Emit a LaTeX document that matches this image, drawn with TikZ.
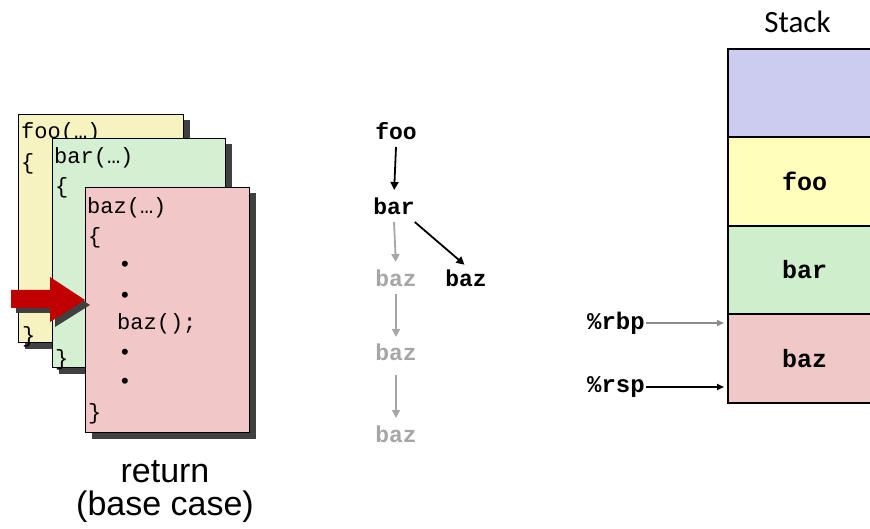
\documentclass[tikz,border=0pt]{standalone}
\usepackage{fontspec}
\setmainfont{Liberation Sans}
\newfontfamily\codefont{Liberation Mono}
\newfontfamily\calfont{Carlito}
\usetikzlibrary{arrows.meta,shadows}
\definecolor{cfoo}{RGB}{246,243,192}
\definecolor{cbar}{RGB}{213,239,210}
\definecolor{cbaz}{RGB}{242,199,199}
\definecolor{sblue}{RGB}{204,204,240}
\definecolor{syellow}{RGB}{255,255,187}
\definecolor{sgreen}{RGB}{206,238,204}
\definecolor{spink}{RGB}{240,200,200}
\definecolor{shadowc}{RGB}{64,64,64}
\definecolor{fadegray}{RGB}{166,166,166}
\definecolor{ptrgray}{RGB}{140,140,140}
\definecolor{arrowred}{RGB}{192,0,0}
\tikzset{
  codebox/.style={draw=black, line width=1pt, anchor=north west, inner sep=0pt,
    drop shadow={shadow xshift=6pt, shadow yshift=-6pt, fill=shadowc, opacity=1}},
  codetxt/.style={font=\codefont\fontsize{22}{24}\selectfont, anchor=west, inner sep=0pt,
    text height=16pt, text depth=2pt},
  calltxt/.style={font=\codefont\bfseries\fontsize{23}{25}\selectfont, inner sep=0pt,
    text height=15pt, text depth=1pt, outer sep=6pt},
  fade/.style={text=fadegray},
  callarrow/.style={line width=1.8pt, -{Triangle[length=8pt,width=8pt]}},
  fadearrow/.style={callarrow, draw=fadegray},
  stackcell/.style={draw=black, line width=2pt, anchor=north west, inner sep=0pt,
    minimum width=153pt, minimum height=88.5pt,
    font=\codefont\bfseries\fontsize{25}{27}\selectfont, text height=17pt, text depth=0pt},
  regtxt/.style={font=\codefont\bfseries\fontsize{24}{26}\selectfont, inner sep=1pt, anchor=east},
  ptrarrow/.style={line width=1.6pt, -{Triangle[length=7pt,width=6pt]}}
}
\begin{document}
\begin{tikzpicture}[x=1pt,y=-1pt]
\useasboundingbox (0,0) rectangle (870,529);

% ---------- code frames ----------
\node[codebox, fill=cfoo, minimum width=165pt, minimum height=228pt] (foobox) at (18,114) {};
\node[codetxt] (foohead) at (21,132) {foo(…)};
\node[codetxt] (fooopen) at (21,163) {\{};
\node[codetxt] (fooclose) at (22,335) {\}};

\node[codebox, fill=cbar, minimum width=173pt, minimum height=229pt] (barbox) at (52,138) {};
\node[codetxt] (barhead) at (54,157) {bar(…)};
\node[codetxt] (baropen) at (55,187) {\{};
\node[codetxt] (barclose) at (55,358) {\}};

\node[codebox, fill=cbaz, minimum width=164pt, minimum height=245pt] (bazbox) at (85,187) {};
\node[codetxt] (bazhead) at (87,207) {baz(…)};
\node[codetxt] (bazopen) at (88,237) {\{};
\node[codetxt, anchor=center] (dot1) at (125,265) {•};
\node[codetxt, anchor=center] (dot2) at (125,295) {•};
\node[codetxt] (bazcall) at (117,323) {baz();};
\node[codetxt, anchor=center] (dot3) at (125,352) {•};
\node[codetxt, anchor=center] (dot4) at (125,381) {•};
\node[codetxt] (bazclose) at (88,412) {\}};

% red pointer arrow
\fill[shadowc] (16,295) -- (55,295) -- (55,282) -- (90,305) -- (55,327) -- (55,313) -- (16,313) -- cycle;
\fill[arrowred] (11,290) -- (50,290) -- (50,277) -- (85,300) -- (50,322) -- (50,308) -- (11,308) -- cycle;

\node[font=\fontsize{34}{33}\selectfont, anchor=base, inner sep=0pt] (ret1) at (165,482) {return};
\node[font=\fontsize{34}{33}\selectfont, anchor=base, inner sep=0pt] (ret2) at (165,515) {(base case)};

% ---------- call tree ----------
\node[calltxt] (tfoo) at (396,133) {foo};
\node[calltxt] (tbar) at (394,208) {bar};
\node[calltxt, fade] (tbaz1) at (396,280) {baz};
\node[calltxt] (tbazr) at (466,280) {baz};
\node[calltxt, fade] (tbaz2) at (396,353) {baz};
\node[calltxt, fade] (tbaz3) at (396,435) {baz};
\draw[callarrow, shorten >=4pt] (tfoo.south) -- (tbar.north);
\draw[fadearrow, shorten >=4pt] (tbar.south) -- (tbaz1.north);
\draw[callarrow, shorten >=2pt] (tbar.-34) -- (tbazr.north);
\draw[fadearrow, shorten >=2pt] (tbaz1.south) -- (tbaz2.north);
\draw[fadearrow, shorten <=8pt, shorten >=3pt] (tbaz2.south) -- (tbaz3.north);

% ---------- stack ----------
\node[font=\calfont\fontsize{31}{33}\selectfont, anchor=base, inner sep=0pt] (stacklbl) at (797.5,33) {Stack};
\begin{scope}
\clip (0,0) rectangle (870,529);
\node[stackcell, fill=sblue] (s0) at (727,48) {};
\node[stackcell, fill=syellow] (s1) at (727,136.5) {foo};
\node[stackcell, fill=sgreen] (s2) at (727,225) {bar};
\node[stackcell, fill=spink] (s3) at (727,313.5) {baz};
\end{scope}
\coordinate (rbpT) at (724,323);
\coordinate (rspT) at (724,387);
\node[regtxt] (rbp) at (646,323) {\%rbp};
\node[regtxt] (rsp) at (646,387) {\%rsp};
\draw[ptrarrow, draw=ptrgray, fill=ptrgray] (rbp.east) -- (rbpT);
\draw[ptrarrow] (rsp.east) -- (rspT);
\end{tikzpicture}
\end{document}
